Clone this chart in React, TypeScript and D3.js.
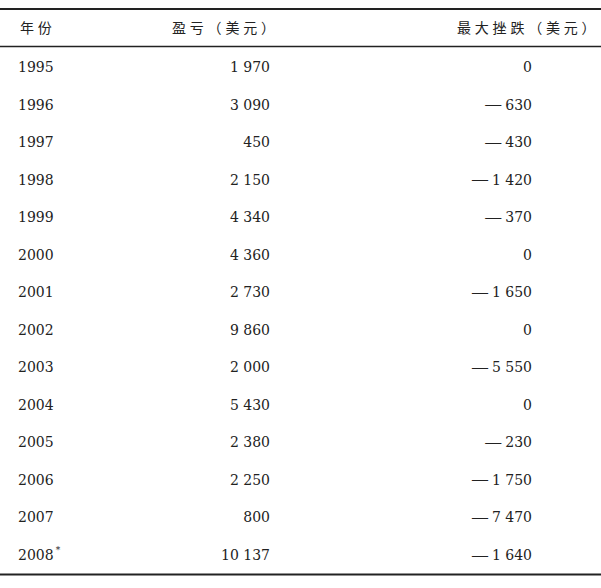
import React, { useRef, useEffect } from 'react';
import * as d3 from 'd3';

const years = ['1995', '1996', '1997', '1998', '1999', '2000', '2001', '2002', '2003', '2004', '2005', '2006', '2007', '2008'];
const profit = [1970, 3090, 450, 2150, 4340, 4360, 2730, 9860, 2000, 5430, 2380, 2250, 800, 10137];
const drawdown = [0, -630, -430, -1420, -370, 0, -1650, 0, -5550, 0, -230, -1750, -7470, -1640];
const headers = ['年份', '盈亏（美元）', '最大挫跌（美元）'];

export default function App(): JSX.Element {
  const divRef = useRef<HTMLDivElement>(null);
  useEffect(() => {
    const divEle = divRef.current;
    if (divEle == null) {
      return;
    }
    d3.select(divEle).selectAll('*').remove();
    const width = 601;
    const height = 588;
    const numFont = '"DejaVu Serif", "Liberation Serif", serif';
    const cjkFont = '"Noto Sans CJK SC", sans-serif';
    const numSize = '14px';

    const svg = d3
      .select(divEle)
      .append('svg')
      .attr('width', width)
      .attr('height', height)
      .style('display', 'block')
      .style('background', '#fff');

    // 行位置
    const y = d3.scalePoint<string>().domain(years).range([67, 555]);
    const locale = d3.formatLocale({ decimal: '.', thousands: ' ', grouping: [3], currency: ['', ''] });
    const fmt = locale.format(',d');

    // 表格横线
    const rules = [
      { y: 9, w: 2 },
      { y: 46.5, w: 1.3 },
      { y: 574.5, w: 2 }
    ];
    svg
      .selectAll()
      .data(rules)
      .join('line')
      .attr('x1', 0)
      .attr('x2', width)
      .attr('y1', (d) => d.y)
      .attr('y2', (d) => d.y)
      .attr('stroke', '#222')
      .attr('stroke-width', (d) => d.w);

    // 表头
    const headerX = [20, 172, 457];
    svg
      .selectAll()
      .data(headers)
      .join('text')
      .attr('x', (d, i) => headerX[i])
      .attr('y', 27)
      .attr('dominant-baseline', 'central')
      .style('font-family', cjkFont)
      .style('font-size', '14px')
      .style('letter-spacing', '3.8px')
      .style('fill', '#222')
      .text((d) => d);

    // 年份
    const yearText = svg
      .selectAll()
      .data(years)
      .join('text')
      .attr('x', 18)
      .attr('y', (d) => y(d) as number)
      .attr('dominant-baseline', 'central')
      .style('font-family', numFont)
      .style('font-size', numSize)
      .style('fill', '#222')
      .text((d) => d);
    yearText
      .filter((d) => d === '2008')
      .append('tspan')
      .attr('dx', 2)
      .attr('dy', -5)
      .style('font-size', '9px')
      .text('*');

    // 数字列（负号用长横线）
    const drawColumn = (values: number[], x: number) => {
      const t = svg
        .selectAll()
        .data(values)
        .join('text')
        .attr('x', x)
        .attr('y', (d, i) => y(years[i]) as number)
        .attr('dominant-baseline', 'central')
        .attr('text-anchor', 'end')
        .style('font-family', numFont)
        .style('font-size', numSize)
        .style('fill', '#222');
      t.filter((d) => d < 0)
        .append('tspan')
        .attr('dy', -1.5)
        .style('font-family', '"Liberation Serif", serif')
        .style('font-size', '16px')
        .text('—');
      t.append('tspan')
        .attr('dx', (d) => (d < 0 ? 4 : 0))
        .attr('dy', (d) => (d < 0 ? 1.5 : 0))
        .text((d) => fmt(Math.abs(d)));
    };
    drawColumn(profit, 270);
    drawColumn(drawdown, 532);
  }, []);
  return <div ref={divRef} style={{ position: 'absolute', left: 0, top: 0, width: 601, height: 588 }} />;
}
